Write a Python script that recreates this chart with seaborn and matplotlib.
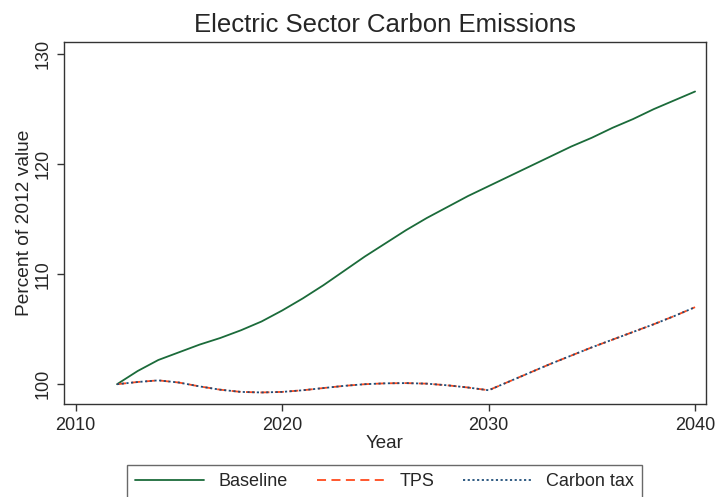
import numpy as np
import pandas as pd
import matplotlib
matplotlib.use('Agg')
import matplotlib.pyplot as plt
import seaborn as sns

# Werte (Prozent des Wertes von 2012)
years = list(range(2012, 2041))
baseline = [100.0, 101.2, 102.2, 102.9, 103.6, 104.2, 104.9, 105.7, 106.7, 107.8,
            109.0, 110.3, 111.6, 112.8, 114.0, 115.1, 116.1, 117.1, 118.0, 118.9,
            119.8, 120.7, 121.6, 122.4, 123.3, 124.1, 125.0, 125.8, 126.6]
tps = [100.0, 100.2, 100.35, 100.15, 99.8, 99.5, 99.3, 99.25, 99.3, 99.45,
       99.65, 99.85, 100.0, 100.08, 100.1, 100.05, 99.9, 99.7, 99.45, 100.25,
       101.05, 101.85, 102.6, 103.35, 104.05, 104.75, 105.45, 106.2, 107.0]
carbon_tax = [100.0, 100.2, 100.35, 100.15, 99.8, 99.5, 99.3, 99.25, 99.3, 99.45,
              99.65, 99.85, 100.0, 100.08, 100.1, 100.05, 99.9, 99.7, 99.45, 100.25,
              101.05, 101.85, 102.6, 103.35, 104.05, 104.75, 105.45, 106.2, 107.0]
series_names = ['Baseline', 'TPS', 'Carbon tax']
x_ticks = [2010, 2020, 2030, 2040]
y_ticks = [100, 110, 120, 130]

df = pd.DataFrame({'Year': years, 'Baseline': baseline, 'TPS': tps, 'Carbon tax': carbon_tax})
df_long = df.melt(id_vars='Year', var_name='Scenario', value_name='Value')

sns.set_style('white')
plt.rcParams['font.family'] = ['Liberation Sans', 'DejaVu Sans']
text_col = '#262626'

fig = plt.figure(figsize=(7.18, 4.97), dpi=100)
ax = fig.add_axes([0.0891, 0.1871, 0.8942, 0.7284])

styles = {
    'Baseline': dict(color='#1b6b3a', dashes=None),
    'TPS': dict(color='#ff4a1c', dashes=(5, 3)),
    'Carbon tax': dict(color='#1f4e79', dashes=(1.2, 1.4)),
}
for name in series_names:
    sub = df_long[df_long['Scenario'] == name]
    st = styles[name]
    sns.lineplot(data=sub, x='Year', y='Value', ax=ax, color=st['color'],
                 linewidth=1.3, label=name)
    if st['dashes'] is not None:
        ax.lines[-1].set_dashes(st['dashes'])

ax.set_xlim(2009.43, 2040.53)
ax.set_ylim(98.2, 131.1)
ax.set_xticks(x_ticks)
ax.set_yticks(y_ticks)
ax.set_yticklabels([str(v) for v in y_ticks], rotation=90, va='center')

for s in ax.spines.values():
    s.set_visible(True)
    s.set_color('#333333')
    s.set_linewidth(1.0)

ax.tick_params(axis='both', which='major', direction='out', length=5, width=1.0,
               color='#333333', labelsize=13, labelcolor=text_col, pad=4,
               bottom=True, left=True)

ax.set_xlabel('Year', fontsize=13.5, color=text_col, labelpad=1)
ax.set_ylabel('Percent of 2012 value', fontsize=13.8, color=text_col, labelpad=1)
ax.set_title('Electric Sector Carbon Emissions', fontsize=18.5, color=text_col, pad=7)

ax.get_legend().remove()
handles, labels = ax.get_legend_handles_labels()
leg = fig.legend(handles, labels, loc='upper center', bbox_to_anchor=(0.536, 0.082),
                 ncol=3, fontsize=13, frameon=True, fancybox=False, handlelength=3.8,
                 columnspacing=1.6, borderpad=0.45, handletextpad=0.8)
leg.get_frame().set_edgecolor('#444444')
leg.get_frame().set_linewidth(1.0)
for t in leg.get_texts():
    t.set_color(text_col)

fig.savefig('out.png', dpi=100)
